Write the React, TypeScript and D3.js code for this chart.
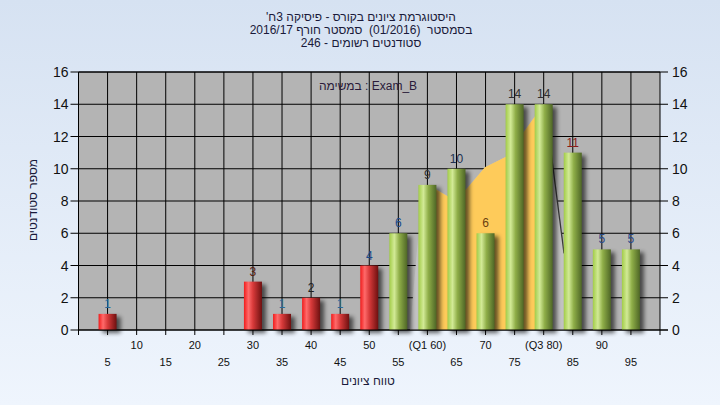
import React from "react";
import * as d3 from "d3";

const categories = [5, 10, 15, 20, 25, 30, 35, 40, 45, 50, 55, 60, 65, 70, 75, 80, 85, 90, 95];
const counts = [1, 0, 0, 0, 0, 3, 1, 2, 1, 4, 6, 9, 10, 6, 14, 14, 11, 5, 5];
const tickLabels = ["5", "10", "15", "20", "25", "30", "35", "40", "45", "50", "55", "(Q1 60)", "65", "70", "75", "(Q3 80)", "85", "90", "95"];
const yTicks = [0, 2, 4, 6, 8, 10, 12, 14, 16];
const passMark = 55;

// quartile band (orange) and distribution outline (light gray)
const bandX = [60, 60, 61.6, 63.7, 66.6, 69.9, 73.5, 80, 80];
const bandY = [0, 9.0, 8.7, 8.25, 8.7, 10.1, 10.75, 14, 0];
const outlineX = [57, 58.4, 60, 61.6, 63.7, 66.6, 69.9, 73.5, 80, 80.2, 83.5, 84.3];
const outlineY = [0, 5.7, 9.0, 8.7, 8.25, 8.7, 10.1, 10.75, 14, 14, 4.75, 0];
const edgeX = [80.2, 83.5];
const edgeY = [14, 4.75];

const titleLines = [
  "'היסטוגרמת ציונים בקורס - פיסיקה 3ח",
  "בסמסטר  (01/2016)  סמסטר חורף 2016/17",
  "סטודנטים רשומים - 246",
];
const subtitle = "במשימה : Exam_B";
const xTitle = "טווח ציונים";
const yTitle = "מספר סטודנטים";

const labelColors = ["#2a6a9a", "#2a6a9a", "#2a6a9a", "#2a6a9a", "#2a6a9a", "#5a2010", "#2a6a9a", "#202020", "#2a6a9a", "#1a4a8a", "#1a4a8a", "#303030", "#203050", "#6a4010", "#303030", "#303030", "#8a1a1a", "#2a4a8a", "#2a4a8a"];

export default function App() {
  const W = 720, H = 405;
  const L = 78.5, R = 660, T = 72, B = 330;
  const x = d3.scaleLinear().domain([0, 100]).range([L, R]);
  const y = d3.scaleLinear().domain([0, 16]).range([B, T]);
  const bw = 18;
  const font = "'Liberation Sans', Arial, sans-serif";

  const pts = (xs: number[], ys: number[]) => xs.map((v, i) => [x(v), y(ys[i])] as [number, number]);
  const poly = d3.line();
  const outlinePath = poly(pts(outlineX, outlineY)) + "Z";
  const bandPath = poly(pts(bandX, bandY)) + "Z";
  const edgePath = poly(pts(edgeX, edgeY));

  const xTickVals = d3.range(0, 101, 5);

  return (
    <svg width={W} height={H} style={{ position: "absolute", left: 0, top: 0 }} fontFamily={font}>
      <defs>
        <linearGradient id="bg" x1="0" y1="0" x2="0" y2="1">
          <stop offset="0%" stopColor="#d6e2f2" />
          <stop offset="100%" stopColor="#eff5fd" />
        </linearGradient>
        <linearGradient id="red" x1="0" y1="0" x2="1" y2="0">
          <stop offset="0%" stopColor="#f01c1c" />
          <stop offset="25%" stopColor="#ff6a6a" />
          <stop offset="50%" stopColor="#d83a3a" />
          <stop offset="100%" stopColor="#6e1010" />
        </linearGradient>
        <linearGradient id="green" x1="0" y1="0" x2="1" y2="0">
          <stop offset="0%" stopColor="#a2cc48" />
          <stop offset="28%" stopColor="#d2ea96" />
          <stop offset="55%" stopColor="#8fae48" />
          <stop offset="100%" stopColor="#4e6626" />
        </linearGradient>
        <filter id="blur" x="-50%" y="-50%" width="200%" height="200%">
          <feGaussianBlur stdDeviation="2" />
        </filter>
      </defs>
      <rect x={0} y={0} width={W} height={H} fill="url(#bg)" />
      {titleLines.map((t, i) => (
        <text key={i} x={361} y={21 + i * 13} textAnchor="middle" fontSize={12} fill="#1a1a3a" direction="ltr" style={{ whiteSpace: "pre" }}>{t}</text>
      ))}
      <rect x={L} y={T} width={R - L} height={B - T} fill="#b4b4b4" />
      {yTicks.map((v) => (
        <line key={"hg" + v} x1={L} x2={R} y1={y(v)} y2={y(v)} stroke="#000" strokeWidth={1} />
      ))}
      {categories.map((c) => (
        <line key={"vg" + c} x1={x(c)} x2={x(c)} y1={T} y2={B} stroke="#000" strokeWidth={1} />
      ))}
      <path d={outlinePath} fill="#c2c2c2" />
      <path d={bandPath} fill="#fecb5a" />
      <path d={edgePath!} fill="none" stroke="#3a3a3a" strokeWidth={1.3} />
      {categories.map((c, i) => counts[i] > 0 && (
        <rect key={"s" + c} x={x(c) - bw / 2 + 4} y={y(counts[i]) + 3} width={bw} height={B - y(counts[i])} fill="#000" opacity={0.6} filter="url(#blur)" />
      ))}
      {categories.map((c, i) => counts[i] > 0 && (
        <rect key={"b" + c} x={x(c) - bw / 2} y={y(counts[i])} width={bw} height={B - y(counts[i])} fill={c < passMark ? "url(#red)" : "url(#green)"} />
      ))}
      {categories.map((c, i) => counts[i] > 0 && (
        <text key={"l" + c} x={x(c)} y={y(counts[i]) - 6} textAnchor="middle" fontSize={12} fill={labelColors[i]}>{counts[i]}</text>
      ))}
      <text x={368} y={90} textAnchor="middle" fontSize={12} fill="#2a1a3a" direction="ltr">{subtitle}</text>
      {/* axes */}
      <line x1={L} x2={L} y1={T} y2={B + 5} stroke="#000" />
      <line x1={R} x2={R} y1={T} y2={B} stroke="#000" />
      <line x1={L} x2={R} y1={T} y2={T} stroke="#000" />
      <line x1={L} x2={R + 8} y1={B} y2={B} stroke="#000" />
      {yTicks.map((v) => (
        <g key={"yt" + v}>
          <line x1={L - 8} x2={L} y1={y(v)} y2={y(v)} stroke="#000" />
          <line x1={R} x2={R + 8} y1={y(v)} y2={y(v)} stroke="#000" />
          <text x={L - 10} y={y(v) + 5} textAnchor="end" fontSize={14} fill="#111">{v}</text>
          <text x={R + 12} y={y(v) + 5} textAnchor="start" fontSize={14} fill="#111">{v}</text>
        </g>
      ))}
      {xTickVals.map((v) => (
        <line key={"xt" + v} x1={x(v)} x2={x(v)} y1={B} y2={B + 5} stroke="#000" />
      ))}
      {categories.map((c, i) => (
        <text key={"xl" + c} x={x(c)} y={i % 2 === 1 ? 349 : 366} textAnchor="middle" fontSize={11} fill="#111">{tickLabels[i]}</text>
      ))}
      <text x={368} y={385} textAnchor="middle" fontSize={12} fill="#1a1a3a" direction="ltr">{xTitle}</text>
      <text transform={`translate(37,200) rotate(-90)`} textAnchor="middle" fontSize={12} fill="#1a1a3a" direction="ltr">{yTitle}</text>
    </svg>
  );
}
